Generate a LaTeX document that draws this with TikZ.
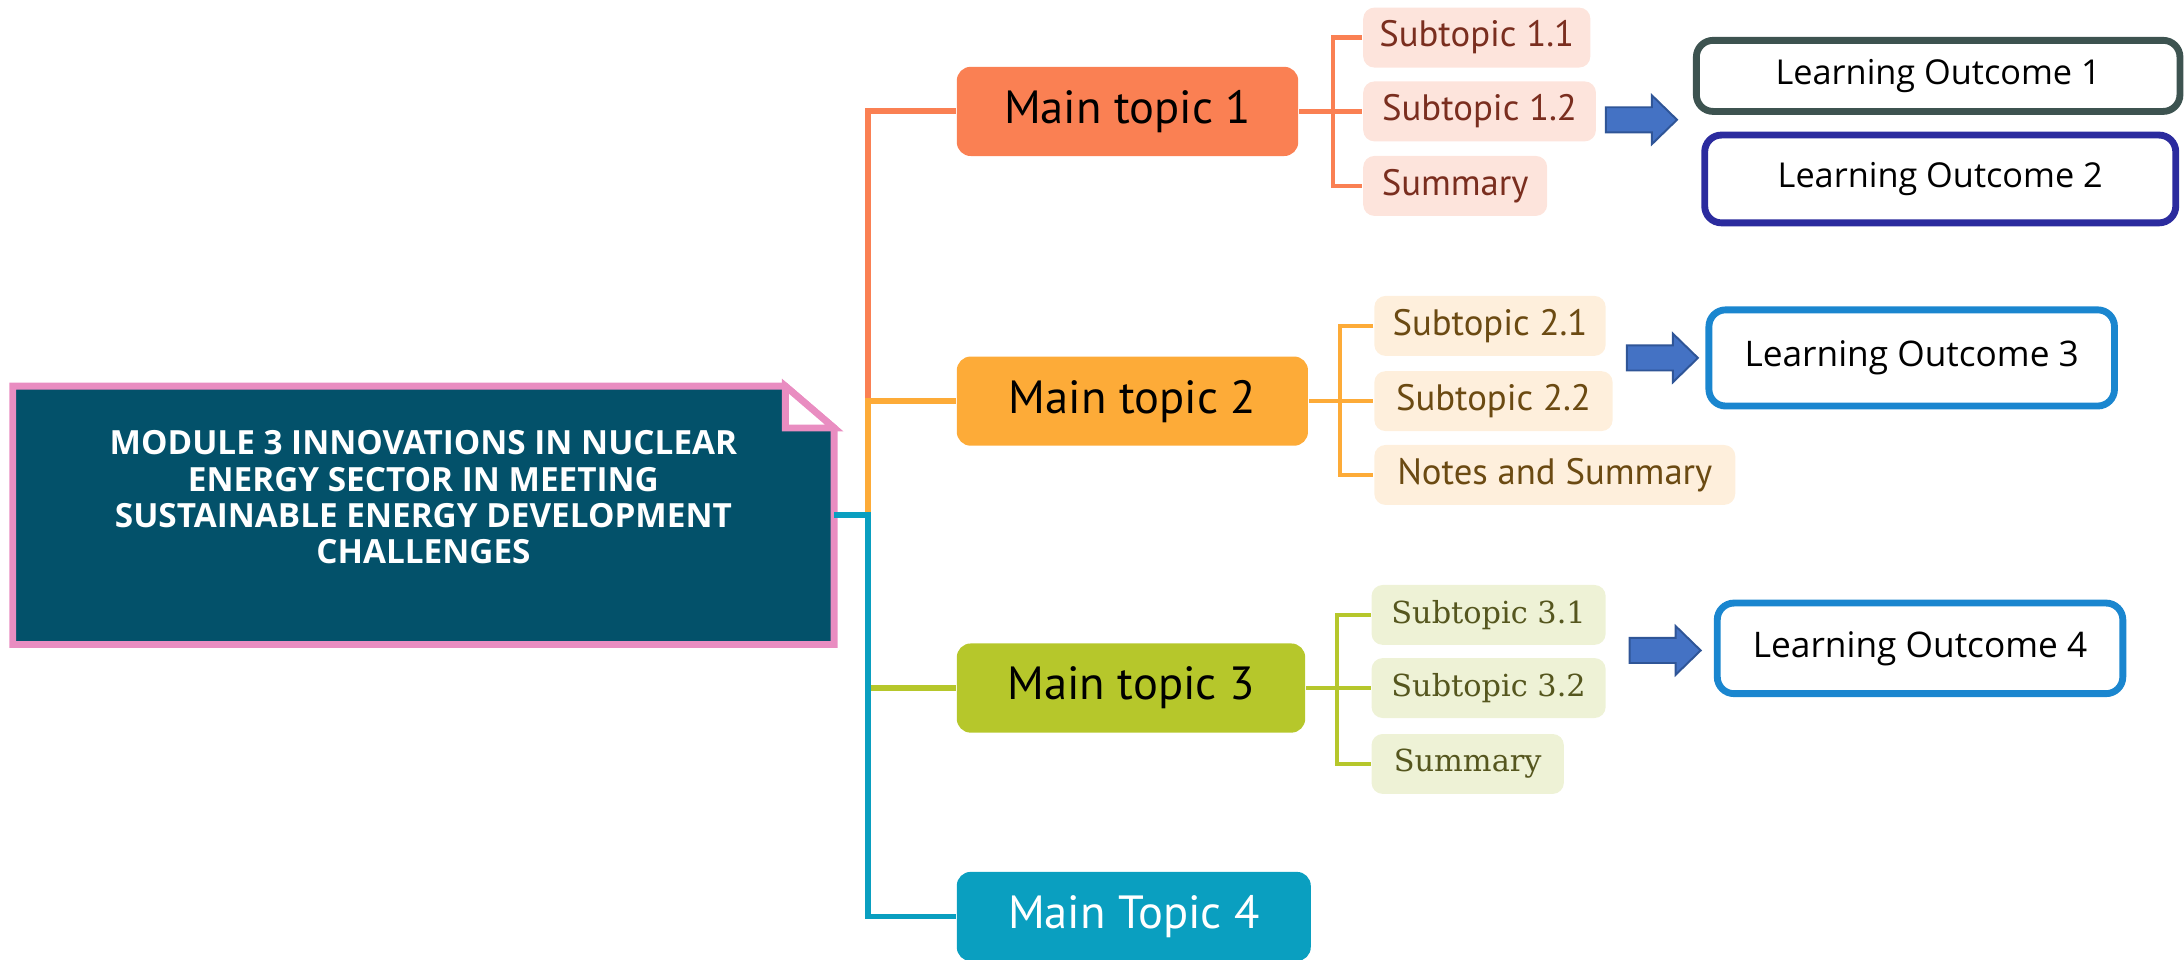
\documentclass[tikz,border=0pt]{standalone}
\usepackage{fontspec}
\setmainfont{PT Sans}
\newfontfamily\lofont{Open Sans}
\newfontfamily\serfont{DejaVu Serif}
\definecolor{modteal}{HTML}{03516A}
\definecolor{modpink}{HTML}{E98DC1}
\definecolor{topicA}{HTML}{FA8053}
\definecolor{topicB}{HTML}{FDAB38}
\definecolor{topicC}{HTML}{B6C72B}
\definecolor{topicD}{HTML}{0A9FC0}
\definecolor{subA}{HTML}{FDE4DC}
\definecolor{subB}{HTML}{FEEFDC}
\definecolor{subC}{HTML}{EEF2D6}
\definecolor{txtA}{HTML}{7A2E1F}
\definecolor{txtB}{HTML}{6B4A12}
\definecolor{txtC}{HTML}{55561E}
\definecolor{arrowfill}{HTML}{4472C4}
\definecolor{arrowedge}{HTML}{2F5597}
\definecolor{loA}{HTML}{3D5350}
\definecolor{loB}{HTML}{2B2B9E}
\definecolor{loC}{HTML}{1A86CF}
\tikzset{
  rootedge/.style={draw=modpink, line width=1.4pt, line join=miter},
  maintopic/.style={rounded corners=0.1cm, minimum height=0.64cm, inner sep=0pt,
    font=\fontsize{9.5}{11}\selectfont, text=black},
  subtopic/.style={rounded corners=0.08cm, anchor=west, minimum height=0.43cm, inner sep=0pt,
    font=\fontsize{7.5}{9}\selectfont},
  outcome/.style={draw, rounded corners=0.12cm, line width=1.4pt, fill=white, inner sep=0pt,
    font=\lofont\fontsize{7}{8}\selectfont},
  trunk/.style={line width=1.2pt},
  twig/.style={line width=0.9pt},
  blockarrow/.style={fill=arrowfill, draw=arrowedge, line width=0.4pt, line join=miter}
}
\begin{document}
\begin{tikzpicture}[x=0.01cm, y=-0.01cm]
\useasboundingbox (0,0) rectangle (1568,689);

% module box with folded corner
\node[minimum width=5.88cm, minimum height=1.84cm, inner sep=0pt] (root) at (304,370) {};
\draw[rootedge, fill=modteal] (root.north west) -- ([xshift=-0.35cm]root.north east)
  -- ([yshift=-0.30cm]root.north east) -- (root.south east) -- (root.south west) -- cycle;
\draw[rootedge, fill=white] ([xshift=-0.35cm]root.north east)
  -- ([xshift=-0.35cm, yshift=-0.30cm]root.north east) -- ([yshift=-0.30cm]root.north east) -- cycle;
\node[text=white, align=center, font=\lofont\bfseries\fontsize{6.8}{7.4}\selectfont] (roottext)
  at ([yshift=0.13cm]root.center)
  {MODULE 3 INNOVATIONS IN NUCLEAR\\ENERGY SECTOR IN MEETING\\SUSTAINABLE ENERGY DEVELOPMENT\\CHALLENGES};

% main topics
\node[maintopic, fill=topicA, minimum width=2.45cm] (t1) at (809.5,80) {Main topic 1};
\node[maintopic, fill=topicB, minimum width=2.52cm] (t2) at (813,288) {Main topic 2};
\node[maintopic, fill=topicC, minimum width=2.50cm] (t3) at (812,494) {Main topic 3};
\node[maintopic, fill=topicD, minimum width=2.54cm, text=white] (t4) at (814,658) {Main Topic 4};

% subtopics
\node[subtopic, fill=subA, text=txtA, minimum width=1.63cm] (s11) at (978,27) {Subtopic 1.1};
\node[subtopic, fill=subA, text=txtA, minimum width=1.67cm] (s12) at (978,80) {Subtopic 1.2};
\node[subtopic, fill=subA, text=txtA, minimum width=1.32cm] (s13) at (978,133.5) {Summary};
\node[subtopic, fill=subB, text=txtB, minimum width=1.66cm] (s21) at (986,234) {Subtopic 2.1};
\node[subtopic, fill=subB, text=txtB, minimum width=1.71cm] (s22) at (986,288) {Subtopic 2.2};
\node[subtopic, fill=subB, text=txtB, minimum width=2.59cm] (s23) at (986,341) {Notes and Summary};
\node[subtopic, fill=subC, text=txtC, minimum width=1.68cm, font=\serfont\fontsize{6.2}{8}\selectfont] (s31) at (984,441.5) {Subtopic 3.1};
\node[subtopic, fill=subC, text=txtC, minimum width=1.68cm, font=\serfont\fontsize{6.2}{8}\selectfont] (s32) at (984,494) {Subtopic 3.2};
\node[subtopic, fill=subC, text=txtC, minimum width=1.38cm, font=\serfont\fontsize{6.2}{8}\selectfont] (s33) at (984,548.5) {Summary};

% learning outcomes
\node[outcome, draw=loA, minimum width=3.47cm, minimum height=0.51cm] (lo1) at (1391.5,54.5) {Learning Outcome 1};
\node[outcome, draw=loB, minimum width=3.38cm, minimum height=0.63cm] (lo2) at (1393,128.5) {Learning Outcome 2};
\node[outcome, draw=loC, minimum width=2.91cm, minimum height=0.69cm, font=\lofont\fontsize{7.2}{8}\selectfont] (lo3) at (1372.5,257) {Learning Outcome 3};
\node[outcome, draw=loC, minimum width=2.91cm, minimum height=0.65cm, font=\lofont\fontsize{7.2}{8}\selectfont] (lo4) at (1378.5,465.5) {Learning Outcome 4};

% trunk
\coordinate (hub) at ([xshift=0.24cm]root.east);
\draw[trunk, topicA] (t1.west) -| (hub |- t2.west);
\draw[trunk, topicB] (t2.west) -| (hub);
\draw[trunk, topicC] (t3.west) -- (hub |- t3.west);
\draw[trunk, topicD] (root.east) -- (hub) |- (t4.west);

% brackets to subtopics
\draw[twig, topicA] (t1.east) -- (s12.west);
\draw[twig, topicA] (s11.west) -| ([xshift=-0.21cm]s12.west) |- (s13.west);
\draw[twig, topicB] (t2.east) -- (s22.west);
\draw[twig, topicB] (s21.west) -| ([xshift=-0.24cm]s22.west) |- (s23.west);
\draw[twig, topicC] (t3.east) -- (s32.west);
\draw[twig, topicC] (s31.west) -| ([xshift=-0.24cm]s32.west) |- (s33.west);

% block arrows
\foreach \ax/\ay in {1153/86, 1168/257, 1170/467}
  \draw[blockarrow] (\ax,\ay) ++(0,-9) -- ++(33,0) -- ++(0,-8.5) -- ++(18,17.5)
    -- ++(-18,17.5) -- ++(0,-8.5) -- ++(-33,0) -- cycle;

\end{tikzpicture}
\end{document}
